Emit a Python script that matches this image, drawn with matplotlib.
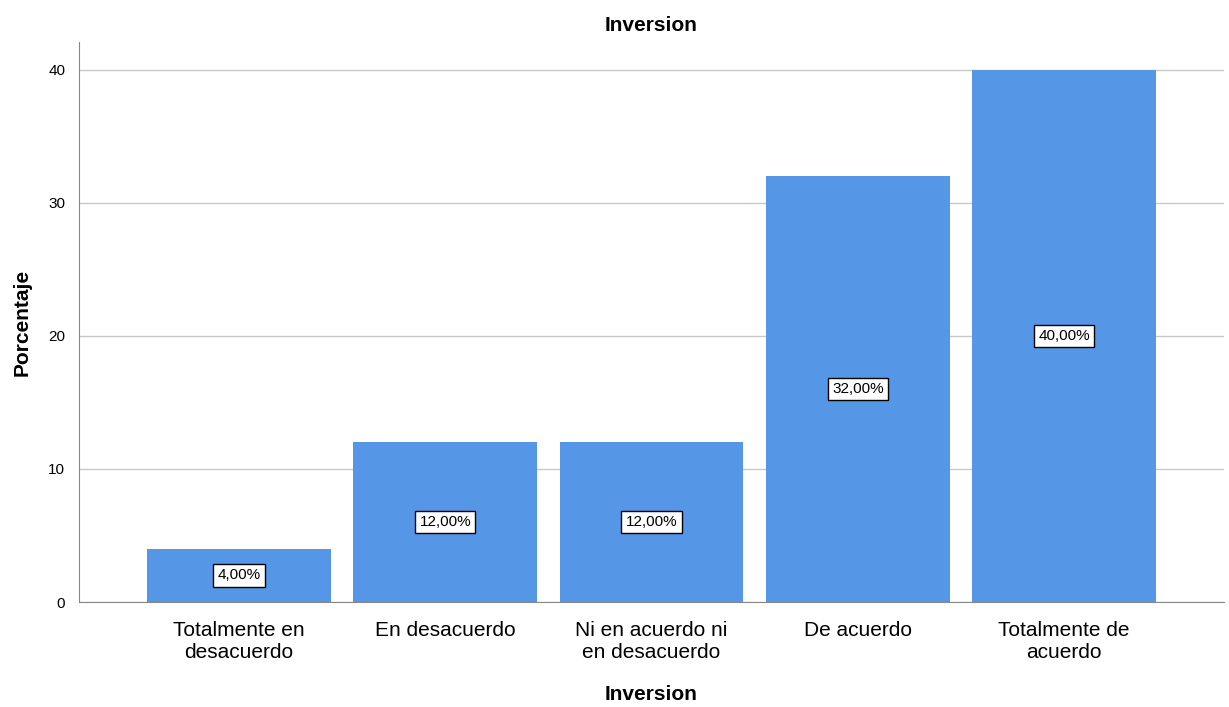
import matplotlib.pyplot as plt
import numpy as np

plt.rcParams['font.family'] = ['Liberation Sans', 'DejaVu Sans']

categorias = ['Totalmente en\ndesacuerdo', 'En desacuerdo', 'Ni en acuerdo ni\nen desacuerdo',
              'De acuerdo', 'Totalmente de\nacuerdo']
porcentajes = [4.0, 12.0, 12.0, 32.0, 40.0]
etiquetas = ['4,00%', '12,00%', '12,00%', '32,00%', '40,00%']

fig = plt.figure(figsize=(12.29, 7.07), dpi=100)
ax = fig.add_axes([0.0643, 0.1485, 0.9317, 0.7921])

x = np.arange(len(categorias))
ax.bar(x, porcentajes, width=0.89, color='#5596e6', zorder=2)

# etiquetas en el centro de cada barra
for xi, v, t in zip(x, porcentajes, etiquetas):
    ax.text(xi, v / 2, t, ha='center', va='center', fontsize=11, zorder=3,
            bbox=dict(boxstyle='square,pad=0.28', fc='white', ec='black', lw=1))

ax.set_xlim(-0.775, 4.775)
ax.set_ylim(0, 42.1)
ax.set_yticks([0, 10, 20, 30, 40])
ax.set_xticks(x)
ax.set_xticklabels(categorias, fontsize=15, linespacing=1.2)
ax.tick_params(axis='y', labelsize=11, length=0, pad=10)
ax.tick_params(axis='x', length=0, pad=14)
ax.yaxis.grid(True, color='#c8c8c8', lw=1, zorder=0)

for s in ['top', 'right']:
    ax.spines[s].set_visible(False)
ax.spines['left'].set_color('#888888')
ax.spines['bottom'].set_color('#888888')

ax.set_ylabel('Porcentaje', fontsize=15, fontweight='bold', labelpad=12)
ax.set_xlabel('Inversion', fontsize=15, fontweight='bold', labelpad=16)
ax.set_title('Inversion', fontsize=15, fontweight='bold', pad=8)

fig.savefig('out.png', dpi=100)
